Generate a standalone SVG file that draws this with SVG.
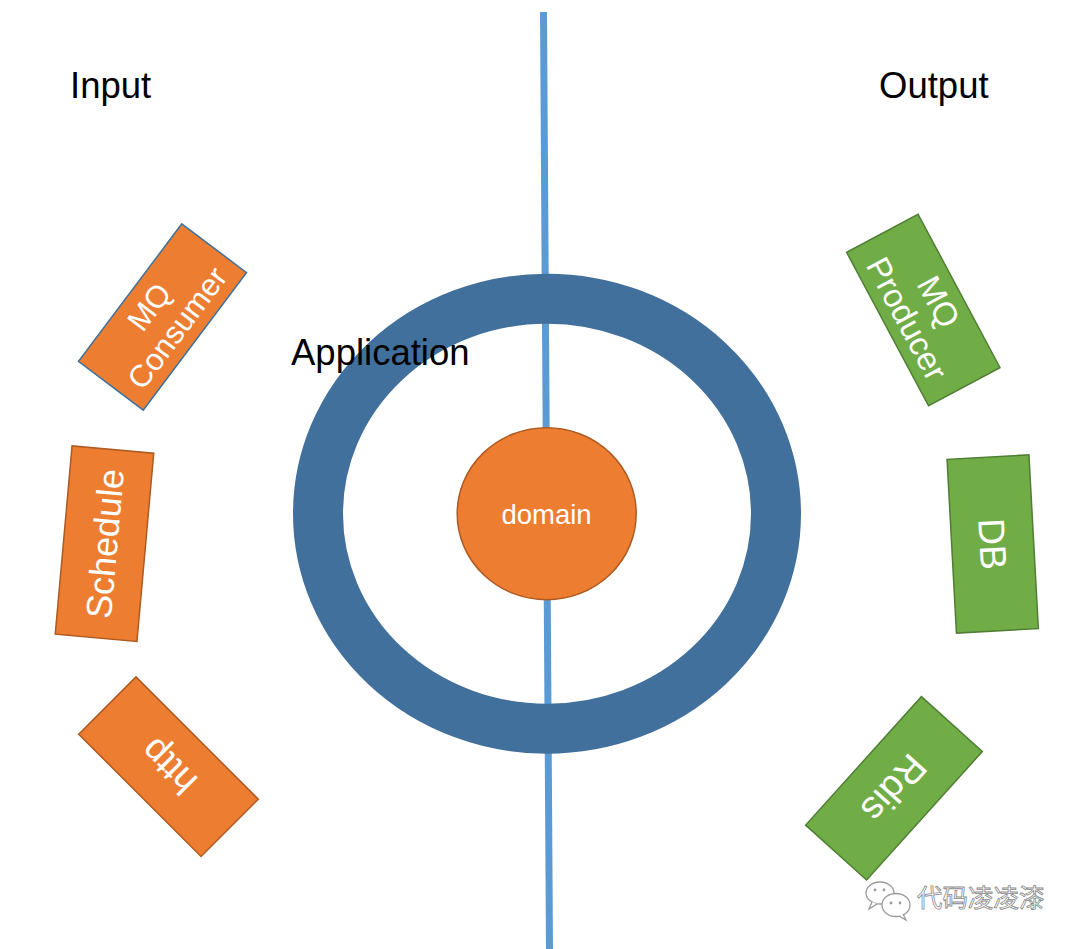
<svg xmlns="http://www.w3.org/2000/svg" width="1080" height="949" viewBox="0 0 1080 949">
<style>
.lbl{font-family:"Liberation Sans",Arial,sans-serif;fill:#000;font-size:36.5px}
.bt{font-family:"Liberation Sans",Arial,sans-serif;fill:#fff;text-anchor:middle}
.or{fill:#ED7D31;stroke:#AE5A21;stroke-width:1.5}
.gr{fill:#70AD47;stroke:#507E32;stroke-width:1.5}
.wm{font-family:"Noto Sans CJK SC",sans-serif;font-size:25.5px;fill:#fff;stroke:#8a8a8a;stroke-width:0.8}
</style>
<rect width="1080" height="949" fill="#fff"/>
<g id="connectors">
<line x1="543.5" y1="12" x2="549.5" y2="949" stroke="#5B9BD5" stroke-width="7"/>
</g>
<g id="application">
<ellipse cx="547" cy="513.7" rx="229" ry="215" fill="none" stroke="#42709C" stroke-width="50"/>
<text class="lbl" x="291" y="365">Application</text>
</g>
<g id="domain">
<ellipse cx="546.7" cy="513.7" rx="89.5" ry="86" fill="#ED7D31" stroke="#AE5A21" stroke-width="1.5"/>
<text class="bt" x="546.5" y="523.5" font-size="27.5">domain</text>
</g>
<g id="input-label"><text class="lbl" x="70" y="98">Input</text></g>
<g id="output-label"><text class="lbl" x="879" y="98">Output</text></g>
<g id="mq-consumer" transform="translate(162.5,317) rotate(-53.1)">
<rect x="-86" y="-40.5" width="172" height="81" fill="#ED7D31" stroke="#41719C" stroke-width="1.5"/>
<text class="bt" x="0" y="-6" font-size="31">MQ</text>
<text class="bt" x="0" y="29" font-size="31">Consumer</text>
</g>
<g id="schedule" transform="translate(104.5,543.7) rotate(-84.9)">
<rect class="or" x="-94.5" y="-41" width="189" height="82"/>
<text class="bt" x="0" y="13" font-size="36">Schedule</text>
</g>
<g id="http" transform="translate(168.5,766.7) rotate(-135)">
<rect class="or" x="-86.5" y="-40.5" width="173" height="81"/>
<text class="bt" x="0" y="13" font-size="37">http</text>
</g>
<g id="mq-producer" transform="translate(923.3,310) rotate(61.9)">
<rect class="gr" x="-87" y="-40.5" width="174" height="81"/>
<text class="bt" x="0" y="-6" font-size="33">MQ</text>
<text class="bt" x="0" y="30" font-size="33">Producer</text>
</g>
<g id="db" transform="translate(992.7,544) rotate(86.9)">
<rect class="gr" x="-87" y="-41" width="174" height="82"/>
<text class="bt" x="0" y="13" font-size="37">DB</text>
</g>
<g id="rdis" transform="translate(894,788.3) rotate(132)">
<rect class="gr" x="-86.5" y="-41" width="173" height="82"/>
<text class="bt" x="0" y="13" font-size="38">Rdis</text>
</g>
<g id="watermark">
<ellipse cx="880" cy="893" rx="14" ry="11" fill="#fff" stroke="#9a9a9a" stroke-width="1.3"/>
<path d="M872 902 L869 909 L877 904" fill="#fff" stroke="#9a9a9a" stroke-width="1.3"/>
<ellipse cx="896" cy="905" rx="14" ry="11.5" fill="#fff" stroke="#9a9a9a" stroke-width="1.3"/>
<path d="M903 914 L906 920 L899 916" fill="#fff" stroke="#9a9a9a" stroke-width="1.3"/>
<circle cx="875" cy="890" r="1.4" fill="#9a9a9a"/>
<circle cx="884" cy="890" r="1.4" fill="#9a9a9a"/>
<circle cx="891" cy="903" r="1.4" fill="#9a9a9a"/>
<circle cx="900" cy="903" r="1.4" fill="#9a9a9a"/>
<text class="wm" x="917" y="907">代码凌凌漆</text>
</g>
</svg>
